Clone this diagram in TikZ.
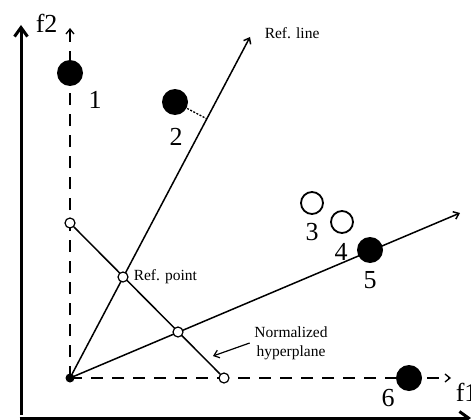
\documentclass[tikz,border=0pt]{standalone}
\usepackage{fontspec}
\setmainfont{Liberation Serif}
\usepackage{tikz}
\usetikzlibrary{arrows.meta, positioning, calc}

\tikzset{
  solpt/.style={circle, fill=black, inner sep=0pt, minimum size=26pt},
  openpt/.style={circle, draw, line width=1.8pt, fill=white, inner sep=0pt, minimum size=22pt},
  hppt/.style={circle, draw, line width=1.2pt, fill=white, inner sep=0pt, minimum size=10pt},
  numlbl/.style={font=\fontsize{26}{26}\selectfont, inner sep=0pt},
  note/.style={font=\fontsize{15.5}{19}\selectfont, inner sep=0pt, align=center},
  guide/.style={line width=1.3pt, dash pattern=on 12pt off 9pt},
  thinarr/.style={-{Straight Barb[length=5pt, width=8pt]}},
}

\begin{document}
\begin{tikzpicture}[x=1pt, y=-1pt, line width=1.5pt]
\useasboundingbox (0,0) rectangle (471,420);

% axes
\coordinate (ax0) at (21,418);
\coordinate (axY) at (21,25);
\coordinate (axX) at (471,418);
\draw[line width=3pt, -{Straight Barb[length=9pt, width=13pt]}] ([yshift=3pt]ax0) -- (axY);
\draw[line width=3pt, -{Straight Barb[length=9pt, width=13pt]}] ([xshift=-1.5pt]ax0) -- (axX);
\node[font=\fontsize{26}{26}\selectfont, anchor=base west, inner sep=0pt] (f2) at (35,33) {f2};
\node[font=\fontsize{26}{26}\selectfont, anchor=base west, inner sep=0pt] (f1) at (455,401) {f1};

% ideal point and dashed guides
\node[circle, fill=black, inner sep=0pt, minimum size=9pt] (ideal) at (70,378) {};
\coordinate (gY) at (70,28);
\coordinate (gX) at (451,378);
\draw[guide, thinarr] (ideal.center) -- (gY);
\draw[guide, thinarr] (ideal.center) -- (gX);

% reference lines
\coordinate (rlA) at (250,37);
\coordinate (rlB) at (460,213);
\draw[thinarr] (ideal.center) -- (rlA);
\draw[thinarr] (ideal.center) -- (rlB);
\node[note, anchor=west] (rltxt) at (264,33) {Ref. line};

% normalized hyperplane
\node[hppt] (hpY) at (70,223) {};
\node[hppt] (hpX) at (224,378) {};
\draw (hpY) -- (hpX);
\node[hppt] (refpt) at (123,277) {};
\node[hppt] (refpt2) at (178,332) {};
\node[note, anchor=west] (refptxt) at (133,277) {Ref. point};
\node[note] (hptxt) at (291,343) {Normalized\\hyperplane};
\coordinate (hpArr) at (213,356);
\draw[line width=1.2pt, thinarr] ([xshift=-4pt]hptxt.west) -- (hpArr);

% solutions
\node[solpt] (s1) at (70,73) {};
\node[solpt] (s2) at (175,102) {};
\node[openpt] (s3) at (312,203) {};
\node[openpt] (s4) at (342,222) {};
\node[solpt] (s5) at (370,250) {};
\node[solpt] (s6) at (409,378) {};

\coordinate (foot2) at ($(ideal.center)!(s2)!(rlA)$);
\draw[line width=1.3pt, dash pattern=on 2pt off 1.5pt] (s2) -- (foot2);

\node[numlbl] (n1) at (95,100) {1};
\node[numlbl] (n2) at (176,137) {2};
\node[numlbl] (n3) at (312,232) {3};
\node[numlbl] (n4) at (341,252) {4};
\node[numlbl] (n5) at (370,280) {5};
\node[numlbl] (n6) at (388,398) {6};
\end{tikzpicture}
\end{document}
